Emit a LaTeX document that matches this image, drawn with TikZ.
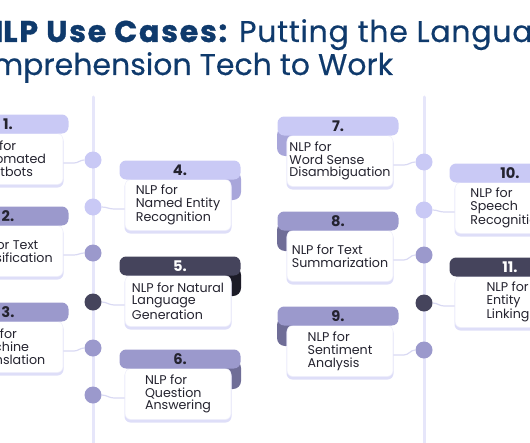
\documentclass[tikz,border=0pt]{standalone}
\usepackage{fontspec}
\newfontfamily\nufont{Poppins}
\newfontfamily\nuheadfont[FakeBold=0.4]{Poppins}
\newfontfamily\nuheadwide[FakeBold=0.4, LetterSpace=2.5]{Poppins}
\newfontfamily\nuheavy[FakeBold=1.2, LetterSpace=6]{Poppins Bold}
\usepackage{xcolor}
\definecolor{nutitle}{HTML}{0F3A6C}
\definecolor{nuink}{HTML}{24232F}
\definecolor{nurail}{HTML}{E6E6FA}
\definecolor{nuwirec}{HTML}{D9D9F3}
\definecolor{nushade}{HTML}{DEDEF8}
\definecolor{nutabA}{HTML}{C9C9F5}
\definecolor{nufoldA}{HTML}{A8A6DA}
\definecolor{nunumA}{HTML}{24232F}
\definecolor{nutabB}{HTML}{9B99CC}
\definecolor{nufoldB}{HTML}{6F6D97}
\definecolor{nunumB}{HTML}{24232F}
\definecolor{nutabC}{HTML}{45445C}
\definecolor{nufoldC}{HTML}{1C1B27}
\definecolor{nunumC}{HTML}{FFFFFF}
\usepackage{tikz}
\tikzset{
  nubody/.style ={rectangle, rounded corners=4.5pt, fill=white, draw=nushade!50,
                  line width=0.4pt, minimum width=79.5pt, minimum height=38.25pt,
                  inner sep=1.5pt, align=left, text=nuink,
                  font=\nufont\fontsize{9.5}{9.6}\selectfont},
  nutab/.style  ={rectangle, rounded corners=5pt, minimum width=90.75pt,
                  minimum height=14.25pt, inner sep=0pt,
                  font=\nufont\bfseries\fontsize{11}{11}\selectfont},
  nudot/.style  ={circle, minimum size=12.75pt, inner sep=0pt},
  nuwire/.style ={draw=nuwirec, line width=0.9pt},
  nurailln/.style={draw=nurail, line width=2.25pt, line cap=round},
  nuhead/.style ={anchor=base west, inner sep=0pt, text=nutitle,
                  font=\nuheadfont\fontsize{22.5}{27}\selectfont},
}
\newcommand{\nucard}[6]{%
  \begin{scope}[shift={#1}, xscale=#2]
    \fill[nufold#3, rounded corners=6pt] (46,-34) rectangle (63,-5);
    \fill[nushade, rounded corners=4.5pt] (-53.5,-24) rectangle (53.5,28.5);
    \node[nubody] (c#6) at (0,0) {#5};
    \node[nutab, fill=nutab#3, text=nunum#3] (t#6) at (2,-35) {#4};
  \end{scope}}

\begin{document}
\begin{tikzpicture}[x=0.75pt, y=-0.75pt]
  \useasboundingbox (0,0) rectangle (530,442);
  \clip (0,0) rectangle (530,442);
  \node[nuhead] (head1) at (3,42)
       {{\nuheavy\llap{N}LP Use Cases:}\hspace{1pt} {\nuheadwide Putting the Language}};
  \node[nuhead] (head2) at (-8,75) {\llap{Co}mprehension Tech to Work};
  % timelines
  \draw[nurailln] (93,97) -- (93,450);
  \draw[nurailln] (424,97) -- (424,450);
  \foreach \n/\x/\y/\s in {1/93/160/A, 4/93/207/A, 2/93/253/B, 5/93/302/C, 3/93/348/B,
                           6/93/395/B, 7/424/162/A, 10/424/210/A, 8/424/255/B,
                           11/424/303/C, 9/424/350/B}{
    \node[nudot, fill=nutab\s] (d\n) at (\x,\y) {};}
  % left column
  \nucard{(10,159)}{-1}{A}{1.}{NLP for\\Automated\\Chatbots}{1}
  \nucard{(10,251)}{-1}{B}{2.}{NLP for Text\\Classification}{2}
  \nucard{(10,347)}{-1}{B}{3.}{NLP for\\Machine\\Translation}{3}
  \nucard{(178,205)}{1}{A}{4.}{NLP for\\Named Entity\\Recognition}{4}
  \nucard{(178,301)}{1}{C}{5.}{NLP for Natural\\Language\\Generation}{5}
  \nucard{(178,394)}{1}{B}{6.}{NLP for\\Question\\Answering}{6}
  % right column
  \nucard{(340,161)}{-1}{A}{7.}{NLP for\\Word Sense\\Disambiguation}{7}
  \nucard{(340,256)}{-1}{B}{8.}{NLP for Text\\Summarization}{8}
  \nucard{(340,351)}{-1}{B}{9.}{NLP for\\Sentiment\\Analysis}{9}
  \nucard{(508,208)}{1}{A}{10.}{NLP for\\Speech\\Recognition}{10}
  \nucard{(508,302)}{1}{C}{11.}{NLP for\\Entity\\Linking}{11}
  % connectors
  \foreach \n in {1,2,3,7,8,9}{
    \draw[nuwire] ([yshift=-3pt]c\n.east) -- ([xshift=8pt,yshift=-3pt]c\n.east)
                  to[out=0,in=180] (d\n.west);}
  \foreach \n in {4,5,6,10,11}{
    \draw[nuwire] (d\n.east) to[out=0,in=180] ([xshift=-8pt,yshift=-3pt]c\n.west)
                  -- ([yshift=-3pt]c\n.west);}
\end{tikzpicture}
\end{document}
